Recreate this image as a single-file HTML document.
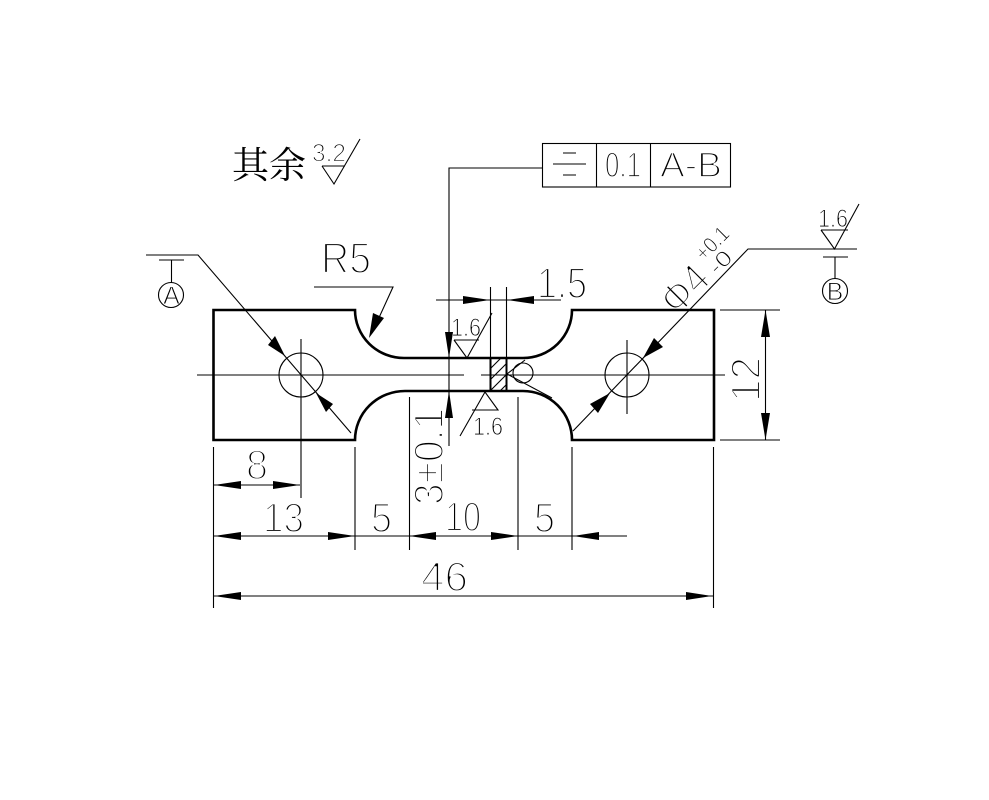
<!DOCTYPE html>
<html>
<head>
<meta charset="utf-8">
<style>
html,body{margin:0;padding:0;background:#fff;}
svg{display:block;}
text{font-family:"Liberation Sans","Noto Serif CJK SC",sans-serif;fill:#000;stroke:#fff;}
.l{stroke-width:2.2px;font-size:42px;}
.m{stroke-width:1.2px;font-size:25px;}
.f{stroke-width:1.7px;font-size:35px;}
.s{stroke-width:1px;font-size:25px;}
.d{stroke-width:.9px;font-size:22px;}
.cn{font-family:"Noto Serif CJK SC","Liberation Serif",serif;font-size:37px;stroke:none;}
.t{fill:none;stroke:#000;stroke-width:1.1;}
.p{fill:none;stroke:#000;stroke-width:2.6;}
.a{fill:#000;stroke:none;}
</style>
</head>
<body>
<svg width="989" height="800" viewBox="0 0 989 800" xmlns="http://www.w3.org/2000/svg">
<rect width="989" height="800" fill="#fff"/>

<!-- text -->
<text class="cn" x="232" y="178" textLength="74" lengthAdjust="spacingAndGlyphs">其余</text>
<text class="m" x="312" y="161.5" textLength="34" lengthAdjust="spacingAndGlyphs">3.2</text>
<text class="l" x="321" y="273" style="font-size:44px" textLength="50" lengthAdjust="spacingAndGlyphs">R5</text>
<text class="l" x="537" y="298" style="font-size:44px" textLength="50" lengthAdjust="spacingAndGlyphs">1.5</text>
<text class="s" x="451" y="336" textLength="30" lengthAdjust="spacingAndGlyphs">1.6</text>
<text class="s" x="473" y="435" textLength="30" lengthAdjust="spacingAndGlyphs">1.6</text>
<text class="s" x="818" y="227" textLength="30" lengthAdjust="spacingAndGlyphs">1.6</text>
<text class="f" x="605" y="177" textLength="36" lengthAdjust="spacingAndGlyphs">0.1</text>
<text class="f" x="660" y="177" textLength="62" lengthAdjust="spacingAndGlyphs">A-B</text>
<text class="l" x="246" y="479" textLength="22" lengthAdjust="spacingAndGlyphs">8</text>
<text class="l" x="263" y="532" textLength="41" lengthAdjust="spacingAndGlyphs">13</text>
<text class="l" x="371" y="532" textLength="21" lengthAdjust="spacingAndGlyphs">5</text>
<text class="l" x="445" y="531" textLength="36" lengthAdjust="spacingAndGlyphs">10</text>
<text class="l" x="534" y="532" textLength="21" lengthAdjust="spacingAndGlyphs">5</text>
<text class="l" x="421" y="591" textLength="47" lengthAdjust="spacingAndGlyphs">46</text>
<text class="l" transform="translate(443 505) rotate(-90)" textLength="97" lengthAdjust="spacingAndGlyphs">3±0.1</text>
<text class="l" transform="translate(760 402) rotate(-90)" textLength="45" lengthAdjust="spacingAndGlyphs">12</text>
<text class="l" transform="translate(677 317) rotate(-45)" textLength="50" lengthAdjust="spacingAndGlyphs">Φ4</text>
<text class="d" transform="translate(704 262) rotate(-45)" textLength="38" lengthAdjust="spacingAndGlyphs">+0.1</text>
<text class="d" transform="translate(717 276) rotate(-45)" textLength="24" lengthAdjust="spacingAndGlyphs">-0</text>
<text class="s" x="171.5" y="304" text-anchor="middle">A</text>
<text class="s" x="835" y="300" text-anchor="middle">B</text>

<!-- part outline -->
<path class="p" d="M213.5 310 H355 A49 48 0 0 0 404 358 H523 A49 48 0 0 0 572 310 H714 V440 H572 A49 49 0 0 0 523 391 H405 A50 49 0 0 0 355 440 H213.5 Z"/>

<!-- holes and centre lines -->
<circle class="t" cx="301" cy="375" r="22"/>
<circle class="t" cx="627" cy="375" r="22"/>
<path class="t" d="M197 375 H464 M481 375 H725 M301 339 V498 M627 340 V414"/>

<!-- section at neck -->
<path class="p" style="stroke-width:2" d="M490.5 358 V391 M506.5 358 V391"/>
<path class="t" d="M491 368 L501 358 M491 379 L506 364 M491 390 L506 375 M500 391 L506 385"/>
<path class="t" d="M490.5 287 V358 M506.5 287 V358"/>

<!-- weld symbol -->
<circle class="t" cx="523" cy="373" r="10"/>
<path class="t" d="M525 360 L507 374 L552 398"/>

<!-- leaders -->
<path class="t" d="M146 255 H198 L351 433"/>
<path class="t" d="M159 260 H184 M171.5 260 V283"/>
<circle class="t" cx="171" cy="295" r="12.5"/>
<polygon class="a" points="285,356 268,345 275,336"/>
<polygon class="a" points="316,393 333,404 326,412"/>

<path class="t" d="M857 249 H748 L573 431"/>
<path class="t" d="M823 257 H848 M835 257 V279"/>
<circle class="t" cx="835" cy="291" r="12.5"/>
<polygon class="a" points="643,358 654,338 663,347"/>
<polygon class="a" points="610,393 590,404 598,413"/>

<path class="t" d="M314 287 H393 L372 333"/>
<polygon class="a" points="369,338 373,313 384,318"/>

<!-- datum leader to FCF -->
<path class="t" d="M542 168 H449 V446"/>
<polygon class="a" points="449,358 445,332 453,332"/>
<polygon class="a" points="449,391 445,418 453,418"/>

<!-- FCF -->
<rect class="t" x="542.5" y="143.5" width="188" height="43.5"/>
<path class="t" d="M596.5 143.5 V187 M650.5 143.5 V187 M553 164 H586 M563 153 H576 M563 175 H576"/>

<!-- roughness symbols -->
<path class="t" d="M322 166 H345 M322 166 L334 184 L360 139"/>
<path class="t" d="M454 340 H479 M454 340 L467 358 L492 313"/>
<path class="t" d="M472 410 H498 L485 392 L460 436"/>
<path class="t" d="M821 230 H848 M821 230 L834.5 249 L859 204"/>

<!-- 1.5 dim -->
<path class="t" d="M436 300 H561"/>
<polygon class="a" points="490,300 463,296 463,304"/>
<polygon class="a" points="507,300 534,296 534,304"/>

<!-- 12 dim -->
<path class="t" d="M720 310 H780 M720 440 H780 M765.5 310 V440"/>
<polygon class="a" points="765.5,310 761,337 770,337"/>
<polygon class="a" points="765.5,440 761,413 770,413"/>

<!-- bottom dims -->
<path class="t" d="M213.5 447 V608 M355 447 V550 M409.5 397 V550 M518 397 V550 M572 447 V550 M713.5 447 V608"/>
<path class="t" d="M214 485 H300 M214 536 H627 M214 596 H713"/>
<polygon class="a" points="214,485 241,481 241,489"/>
<polygon class="a" points="300,485 273,481 273,489"/>
<polygon class="a" points="214,536 241,532 241,540"/>
<polygon class="a" points="355,536 328,532 328,540"/>
<polygon class="a" points="409,536 436,532 436,540"/>
<polygon class="a" points="518,536 491,532 491,540"/>
<polygon class="a" points="573,536 599,532 599,540"/>
<polygon class="a" points="214,596 241,592 241,600"/>
<polygon class="a" points="712,596 686,592 686,600"/>
</svg>
</body>
</html>
